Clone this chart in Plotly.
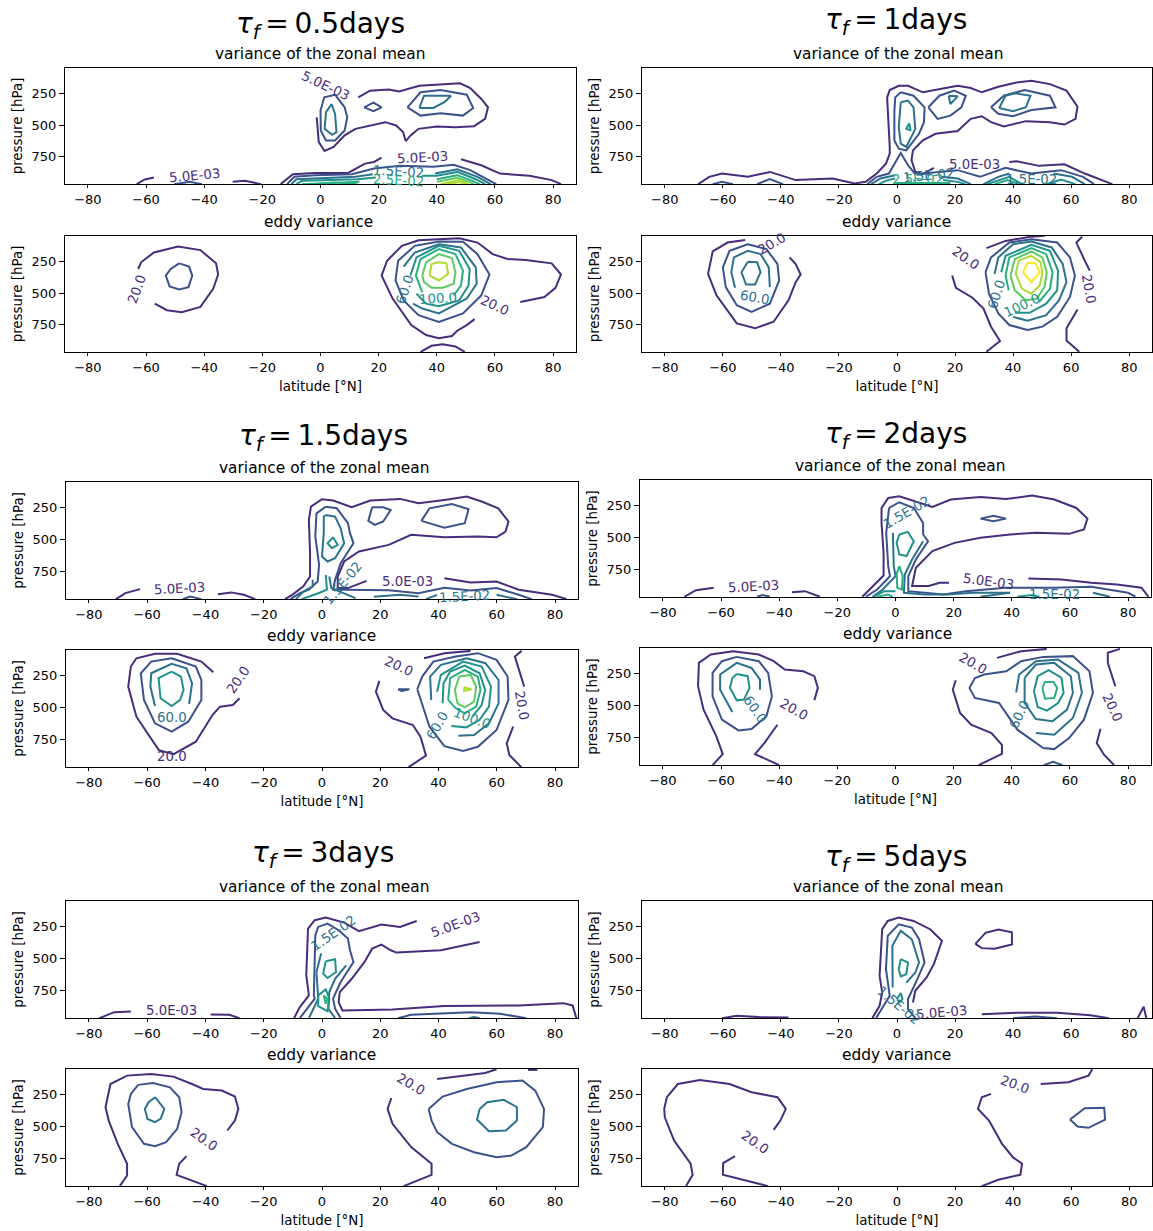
import plotly.graph_objects as go

COLORS = ["#472d7b", "#3b528b", "#2c728e", "#21918c", "#28ae80", "#5ec962", "#addc30", "#fde725"]
X_TICKS = [-80, -60, -40, -20, 0, 20, 40, 60, 80]
Y_TICKS = [250, 500, 750]

# each contour: (colour level, [(lat, pressure), ...], closed?)
A_TOP = [
 (0, [(13,279),(17,226),(23.5,216),(27,232),(34,187),(43,174),(48,168),(51.5,205),(55.3,292),(57.6,358),(56.6,450),(52.8,508),(46.4,516),(40,510),(33.7,529),(31,581),(29.3,626),(28.4,555),(26,502),(22.3,476),(17.2,502),(12,529),(8.3,581),(4.5,673),(1.4,705),(-0.6,634),(-1.3,437)]),
 (1, [(5,258),(8.3,358),(9.2,437),(8.3,542),(5,621),(1.9,621),(0.1,542),(0,384),(1.3,279)], 1),
 (2, [(3.8,332),(5,410),(5.5,555),(4,576),(1.4,529),(1.9,397)], 1),
 (1, [(15,358),(18.2,321),(21,358),(18.2,389)], 1),
 (1, [(29.9,358),(34.4,239),(41.3,221),(50.3,258),(52.5,363),(49,424),(41.3,405),(34.4,424)], 1),
 (2, [(34,363),(35.6,266),(44.9,266),(42.6,318),(38.8,363)], 1),
 (0, [(-63.2,968),(-60.4,931),(-57.3,915)]),
 (1, [(-50.3,968),(-45,950),(-40.7,968)]),
 (0, [(-30.2,950),(-26,942),(-20.4,968)]),
 (0, [(-13.7,968),(-9.5,889),(-2,879),(9.5,879),(15.3,805),(18.4,792),(21,758)]),
 (0, [(48.3,771),(55.3,818),(61.7,884),(71.9,902),(79.5,936),(82.7,968)]),
 (1, [(-11.5,968),(-9,910),(-2,897),(10.8,889),(18.4,844),(27.4,823),(38.8,831),(45.8,815),(51.5,857),(57.9,936),(60.4,968)]),
 (2, [(-10,968),(-8.3,929),(12,910),(18,890)]),
 (2, [(39.4,884),(47,850),(54,910),(58.5,968)]),
 (3, [(-8.3,968),(-6.4,942),(12.7,929),(19,915)]),
 (3, [(35,902),(40,902),(47,871),(53.4,929),(56.6,968)]),
 (4, [(-6.4,968),(13.4,950)]),
 (4, [(40,929),(47,897),(52.2,942),(54.7,968)]),
 (4, [(-3.2,968),(4.5,955),(12.7,968)]),
 (5, [(40,950),(47,918),(51,950),(52.8,968)]),
 (6, [(41.3,968),(47.7,936),(50.9,968)]),
 (6, [(43.3,968),(47.7,952),(50.3,968)]),
]
A_TOP_LABELS = [("5.0E-03",0,1.6,187,25),("5.0E-03",0,-43.2,897,-5),("5.0E-03",0,35,758,-3),("1.5E-02",2,26.7,870,3),("2.5E-02",4,26.7,936,3)]

A_BOT = [
 (0, [(-62.7,308),(-61.7,255),(-57.3,177),(-49,130),(-41.3,158),(-35.9,263),(-35.2,352),(-36.9,465),(-41.3,609),(-47.7,651),(-52.8,635),(-57,583)]),
 (1, [(-48.6,263),(-45.2,289),(-44.1,360),(-45.4,452),(-48.6,470),(-51.9,446),(-53.2,360),(-51.5,308)], 1),
 (0, [(53,706),(50.3,753),(47,798),(45.2,840),(40.7,858),(36.3,832),(31.2,753),(24.8,543),(21,360),(22.9,242),(28,124),(33.7,80),(47.7,64),(54,98),(59.2,190),(64.3,229),(70.6,237),(79.5,263),(82.7,352),(80.8,457),(77,530),(68.7,570)]),
 (0, [(34.4,966),(38.2,918),(42,905),(46.4,923),(49.6,966)]),
 (1, [(40.7,90),(49,92),(54,190),(58.1,352),(55.3,517),(49,661),(40.7,729),(33.7,674),(28.6,557),(25.8,399),(26.7,242),(32.4,124)], 1),
 (2, [(28.6,289),(32.4,177),(40.7,111),(48.3,137),(53.4,295),(53.7,425),(50.3,543),(40.7,661),(35,622),(31.8,583)]),
 (3, [(30.9,360),(33,216),(40.7,124),(47.7,164),(51.3,308),(50.9,439),(47.7,557),(40.7,604),(36.3,583),(33,504)]),
 (4, [(35,491),(32.8,360),(34.4,229),(40.7,150),(46.4,190),(49,321),(48.3,439),(45.8,517)]),
 (5, [(35,360),(36.3,255),(40.7,190),(45.2,221),(46.4,334),(45.8,426),(42,457),(38.2,457),(35.6,412)], 1),
 (6, [(37.5,360),(38.2,268),(40.7,255),(43.3,263),(43.9,347),(40.7,399)], 1),
]
A_BOT_LABELS = [("20.0",0,-63,465,-70),("20.0",0,60,596,25),("60.0",2,29,470,-72),("100.0",3,40.5,543,-3)]

B_TOP = [
 (0, [(12.7,839),(8.9,889),(6.3,870),(5,778),(5.5,700),(8.9,621),(13.3,568),(20.9,547),(25.4,450),(29.2,429),(32.4,476),(36.8,510),(44.4,468),(52.7,476),(57.7,495),(61.5,450),(62.2,353),(58.4,226),(52.7,174),(46.3,147),(41.2,161),(34.9,195),(29.2,239),(25.4,205),(20.9,187),(14.6,213),(8.9,239),(3.8,187),(0.6,187),(-2.5,221),(-3.4,279),(-2.5,673),(-2.5,726),(-3.8,805),(-7,884),(-10.8,950),(-14.6,963),(-22.2,923),(-34.9,936),(-43.8,871),(-51.4,910),(-60.3,884),(-64.7,910),(-68.5,968)]),
 (0, [(38.7,792),(41.2,786),(48.9,823),(57.7,810),(64.7,884),(74.2,968)]),
 (1, [(-10.2,968),(-7,910),(-2.8,884),(1.3,720),(3.8,818),(6.3,889),(20.9,857),(28.6,910),(37.4,839),(46.3,884),(56.5,857),(64.1,910),(67.9,968)]),
 (1, [(1.3,239),(5.7,266),(9.5,358),(9.3,476),(7.6,568),(3.2,700),(0.6,686),(-0.9,621),(-0.9,384),(-0.6,279)], 1),
 (2, [(1.3,318),(3.8,305),(5.7,358),(6.3,529),(3.2,673),(1.3,647),(0.6,516)], 1),
 (3, [(4.2,484),(4.7,542),(3.2,529)], 1),
 (1, [(10.8,358),(14.6,266),(19.7,226),(23.7,266),(22.2,358),(18.4,424),(14,450)], 1),
 (2, [(17.8,266),(20.9,271),(18.4,332)], 1),
 (1, [(32.4,358),(36.8,266),(44,221),(52.7,266),(54.6,358),(46.3,379),(40,429),(34.9,410)], 1),
 (2, [(35.2,363),(37.4,266),(40.6,247),(46,266),(44.4,358),(40,389)], 1),
 (1, [(-63.5,968),(-60.3,950),(-56.5,968)]),
 (1, [(-48.2,968),(-43.8,928),(-39.3,968)]),
 (2, [(-8.9,968),(-5.7,923),(-0.6,897)]),
 (2, [(15.2,910),(20.9,923),(25.4,968)]),
 (3, [(-6.3,968),(-3.2,936),(-0.6,923)]),
 (3, [(15.9,936),(20.9,950),(23.5,968)]),
 (4, [(-0.6,960),(18.4,960)]),
 (2, [(29.8,968),(34.9,910),(38.7,884)]),
 (2, [(53.9,884),(60.3,910),(64.7,968)]),
 (3, [(31.1,968),(38.7,910),(43,968)]),
 (3, [(51.4,968),(56.5,931),(61.5,968)]),
 (4, [(33.6,968),(38.1,936),(41.9,968)]),
]
B_TOP_LABELS = [("5.0E-03",0,26.6,813,0),("1.5E-02",2,46.3,931,0),("2.5E-02",4,7,931,0),("1.5E-02",2,10.8,897,-5)]

B_BOT = [
 (0, [(-52.3,77),(-58.4,98),(-63.5,169),(-65.1,347),(-62.2,517),(-55.2,740),(-48.9,779),(-42.5,727),(-37.4,557),(-34.9,412),(-33.2,352),(-34.9,268),(-37,216)]),
 (1, [(-51.4,111),(-45,150),(-41.2,268),(-40.6,399),(-43.8,583),(-50.1,648),(-55.2,596),(-59,452),(-60,295),(-57.7,164)], 1),
 (2, [(-55.8,457),(-57.1,334),(-56.2,216),(-51.4,164),(-47,190),(-44.2,295),(-43.8,452)]),
 (2, [(-51.4,250),(-48.2,255),(-47,334),(-48.9,431),(-52,431),(-53.6,334)], 1),
 (0, [(30.8,142),(37.4,85),(46.3,51),(51,45)]),
 (0, [(19,360),(20.3,457),(26,536),(29.8,622),(32.4,766),(35.5,879),(30.8,965)]),
 (0, [(63.8,52),(61.8,98),(64.7,242),(66.4,321)]),
 (0, [(62.2,630),(58.4,779),(58.4,876),(62.8,965)]),
 (1, [(30.5,334),(32.4,216),(38.7,98),(46.3,72),(55.2,98),(59.6,216),(61.3,360),(59.6,530),(55.2,688),(50.1,766),(45,792),(38.7,753),(34.9,661),(31.7,504)], 1),
 (2, [(33.6,347),(34.9,216),(40,111),(46.3,90),(53.3,137),(57.1,268),(58.4,412),(55.8,557),(51.4,674),(45,719),(40,688)]),
 (3, [(35.9,334),(37.4,203),(46.3,116),(52.7,164),(55.5,321),(55.2,478),(51.4,583),(45.7,656),(40.6,656)]),
 (4, [(38.5,478),(37.4,360),(38.7,216),(46.3,142),(51.4,190),(53.6,334),(52.7,465),(48.9,570)]),
 (5, [(39.1,360),(40.6,229),(46.3,169),(50.1,216),(51.6,334),(50.8,452),(48.2,543),(44.4,557),(40.6,478)], 1),
 (6, [(40.9,347),(41.9,242),(46.3,203),(49.5,255),(50.1,347),(49.1,439),(46.3,504),(43.1,465)], 1),
 (7, [(43.4,334),(45,260),(47.6,260),(49.2,334),(46.3,412)], 1),
]
B_BOT_LABELS = [("20.0",0,-43,106,-30),("60.0",2,-48.9,538,10),("20.0",0,23.9,221,35),("20.0",0,66,465,80),("60.0",2,34.3,512,-72),("100.0",3,43.1,596,-25)]

C_TOP = [
 (0, [(15.3,824),(8.9,881),(5.4,880),(5.4,790),(7.6,672),(12.7,593),(22.9,541),(30.6,462),(42,481),(53.5,475),(59.9,481),(63,436),(64,357),(60.5,253),(54.8,200),(49.7,161),(42,187),(33.1,213),(26.8,179),(16.6,192),(10.2,245),(3.8,192),(0,182),(-3.8,240),(-4.5,344),(-4.1,606),(-4.1,790),(-6.4,868),(-10.2,934),(-12.7,968)]),
 (0, [(42,803),(51,837),(59.9,829),(67.5,894),(79,934),(84,968)]),
 (0, [(-70.7,968),(-67.5,921),(-62.4,889)]),
 (1, [(-47.8,968),(-45.2,947),(-41.4,968)]),
 (0, [(-35.7,929),(-31.2,915),(-26.8,934),(-22.9,968)]),
 (1, [(1.3,240),(5.1,253),(8.9,370),(9.6,449),(10.8,528),(6.4,685),(4.5,816),(3.8,894),(8.3,894),(22.9,899),(33.1,921),(42,879),(51,900),(59.9,881),(67.5,934),(72,968)]),
 (1, [(1.3,240),(-1.9,293),(-2.3,475),(-1,699),(-1.5,829),(-4.5,894),(-7.6,921),(-10.8,968)]),
 (2, [(1.3,306),(4.5,319),(6.4,411),(7.6,528),(4.5,646),(1.9,672),(0,633),(0.6,449),(0.6,318)], 1),
 (2, [(-3.2,816),(-3.2,868),(-6.4,908),(-8.9,968)]),
 (2, [(2.5,790),(3.2,881),(11.5,960)]),
 (3, [(1.3,777),(1.7,894),(-1,920),(-7,968)]),
 (3, [(3.8,481),(5.4,541),(3.4,567),(1.9,528)], 1),
 (1, [(17.2,245),(21,245),(23.6,266),(21,357),(18.1,384),(15.9,352)], 1),
 (1, [(34.1,352),(36.9,253),(44.6,219),(50.3,260),(49,370),(42,405)], 1),
 (2, [(17.8,950),(26.8,934),(33.1,947)]),
 (2, [(35.7,968),(39.5,934)]),
 (2, [(59.9,934),(66.9,968)]),
]
C_TOP_LABELS = [("5.0E-03",0,-49,887,-3),("5.0E-03",0,29.3,829,0),("1.5E-02",2,49,947,-3),("1.5E-02",2,7,842,-50)]

C_BOT = [
 (0, [(-37.3,221),(-41.4,137),(-49.7,76),(-57.3,76),(-63.7,111),(-65.6,176),(-66.5,334),(-63.7,571),(-56,834),(-50.9,866),(-43.3,768),(-37.6,558),(-35,492),(-30.6,479),(-28.3,426)]),
 (1, [(-51.6,111),(-43.3,176),(-41.4,282),(-41.4,439),(-45.9,610),(-51.6,689),(-57.3,623),(-61.1,439),(-62.2,229),(-58.6,137)], 1),
 (2, [(-57.3,487),(-58.9,334),(-58.6,229),(-51.6,155),(-46.5,190),(-44.6,308),(-45.6,471)]),
 (3, [(-51.6,216),(-48.4,255),(-47.5,360),(-48.7,439),(-51.6,487),(-55.4,426),(-56.1,268)], 1),
 (0, [(35,111),(42,71),(51,53)]),
 (0, [(19.7,289),(18.5,374),(21,518),(24.2,584),(31.2,637),(33.8,729),(35.7,878),(29.7,968)]),
 (0, [(68.5,53),(66.2,97),(69.4,334)]),
 (0, [(65.6,650),(63.4,781),(64.3,873),(68.4,968)]),
 (1, [(26.1,355),(30,355),(27.4,368)], 1),
 (1, [(32.7,355),(34.4,255),(38.2,137),(45.9,97),(53.5,71),(59.9,124),(63.7,255),(64,439),(59.9,676),(53.5,808),(48.4,840),(42,803),(36.9,650)], 1),
 (2, [(37.5,439),(37.1,255),(40.8,163),(49.7,111),(56.1,150),(60.6,282),(60.6,466),(57.3,623),(52.2,716),(46.8,721)]),
 (3, [(39.5,374),(40.8,242),(48.4,137),(54.8,176),(58,334),(57.3,492),(54,597),(49.5,655),(44.4,645)]),
 (3, [(41.4,466),(41.7,308),(44,216),(49,168),(54.1,229),(56,360),(54.8,479),(51.6,571)]),
 (4, [(43.3,439),(44,268),(49,203),(53.5,255),(54.4,360),(52.9,492),(49,545),(45.9,505)], 1),
 (5, [(45.6,360),(47.1,255),(51,242),(52.9,334),(52.2,453),(49,497),(46.5,466)], 1),
 (6, [(48.8,339),(51.3,355),(48.8,368)], 1),
]
C_BOT_LABELS = [("20.0",0,-28.7,276,-55),("20.0",0,-51.6,887,0),("60.0",2,-51.6,579,0),("20.0",0,26.5,176,25),("20.0",0,68.8,487,80),("60.0",2,39.5,637,-60),("100.0",3,51.6,584,20)]

D_TOP = [
 (0, [(-11.4,965),(-7,868),(-4.1,798),(-4.1,619),(-4.8,384),(-4.8,266),(-2.5,187),(1.3,174),(6.3,213),(12.7,258),(19,200),(29.2,179),(38,195),(47,169),(54.6,200),(62.2,266),(66,350),(64.8,436),(59.7,470),(48.3,462),(39.4,475),(29.2,501),(20.3,541),(12.7,606),(7,737),(5.7,881),(11.4,881),(15.2,855),(18.4,855)]),
 (0, [(45.7,821),(57.1,829),(67.3,855),(76.2,868),(84.6,894),(87,965)]),
 (0, [(-72.6,965),(-68.6,913),(-62.5,895)]),
 (1, [(-47.6,965),(-45.7,952),(-43.2,965)]),
 (0, [(-35.6,929),(-31.1,921),(-26,965)]),
 (1, [(-2.2,266),(1.3,221),(6.3,266),(9.5,384),(9.5,475),(11.2,528),(7,672),(4.4,803),(4.4,921),(16.5,947),(24.1,921),(38,895),(54.6,895),(67.3,887),(80,934),(82.5,965)]),
 (1, [(-2.2,266),(-3.2,462),(-2.5,724),(-1.9,803),(-6.3,908),(-10.2,965)]),
 (2, [(-0.9,462),(-0.6,724),(0,803),(-4.4,908),(-7.9,965)]),
 (2, [(9.5,528),(5.7,672),(3.2,790),(2.9,934),(10.2,947),(17.8,947),(26.7,934),(39.4,934)]),
 (3, [(1.3,475),(4.2,454),(6.3,528),(3.8,645),(1.3,632),(0.4,541)], 1),
 (4, [(1.3,724),(2.5,803),(2.2,908),(0.6,895),(0.4,786)], 1),
 (4, [(-6.3,965),(-2.5,947),(-1,965)]),
 (3, [(-7.6,965),(-3.8,921),(0,921)]),
 (2, [(29.2,965),(39.4,934)]),
 (2, [(67.9,934),(73.7,965)]),
 (3, [(41.9,965),(47,952),(49.5,965)]),
 (1, [(29.2,350),(33.7,327),(38,350),(33.7,371)], 1),
]
D_TOP_LABELS = [("5.0E-03",0,-48.9,887,-3),("5.0E-03",0,32,842,8),("1.5E-02",2,3.8,300,-30),("1.5E-02",2,54.6,947,0)]

D_BOT = [
 (0, [(-62.9,968),(-59.4,881),(-61.6,742),(-66,531),(-67.9,347),(-67.6,163),(-63.5,97),(-55.9,71),(-47,97),(-41.9,150),(-38.1,216),(-31.7,229),(-27.9,268),(-26.7,360),(-27.9,458)]),
 (0, [(-40.6,650),(-45.1,794),(-48.3,881),(-40,968)]),
 (1, [(-54.6,116),(-47,150),(-43.8,242),(-42.5,426),(-44.4,584),(-49.5,684),(-54,695),(-59.7,610),(-62.9,426),(-62.9,242),(-59.7,150)], 1),
 (2, [(-56.1,550),(-60.3,374),(-60.3,255),(-54.6,163),(-49.5,203),(-46.6,295),(-46.6,374)]),
 (3, [(-54.6,250),(-50.8,268),(-50.2,360),(-52.1,452),(-54.6,458),(-56.9,360),(-56.1,282)], 1),
 (0, [(20.7,300),(19.7,374),(22.2,558),(26,650),(33,716),(36.6,808),(36.6,879),(28.6,968)]),
 (0, [(34.9,124),(43.2,71),(52,53)]),
 (0, [(77.2,53),(73,84),(73,163),(75.6,347)]),
 (0, [(70.5,681),(69.2,794),(71.7,886),(75.2,968)]),
 (1, [(25.4,360),(27.3,282),(30.5,255),(38.1,229),(43.2,150),(50.8,116),(61,110),(66.7,229),(67.9,400),(64.8,610),(59.7,755),(54.6,842),(50.8,834),(41.9,689),(35.6,479),(29.8,452),(27.3,439)], 1),
 (2, [(41.5,395),(42.5,255),(48.3,150),(55.9,137),(62.9,242),(64.1,400),(61,597),(54.6,729),(48.3,716)]),
 (2, [(44.4,282),(48.3,176),(54.6,163),(60.3,268),(61,400),(59,531),(54,623),(48.3,605),(44.4,479)], 1),
 (3, [(47.6,387),(48.9,268),(52.7,221),(57.1,282),(57.8,400),(55.9,479),(52.1,539),(48.9,510)], 1),
 (4, [(50.5,360),(51.4,313),(54.3,313),(55.6,360),(54.6,439),(51.4,445)], 1),
 (1, [(51,968),(54.2,942),(57.4,968)]),
]
D_BOT_LABELS = [("20.0",0,-34.9,531,30),("60.0",2,-48.3,531,55),("20.0",0,26.7,171,30),("20.0",0,74.5,518,65),("60.0",2,42.5,566,-65)]

E_TOP = [
 (0, [(32.5,203),(26.8,250),(20.4,232),(12.7,284),(7.6,216),(1.3,176),(-2.5,197),(-4.8,263),(-5.4,631),(-4.5,789),(-7.6,881),(-9.6,968)]),
 (0, [(54.1,368),(40.8,434),(25.5,452),(23.6,434),(20.4,389),(17.2,421),(14.6,526),(10.2,658),(6.1,763),(5.7,842),(7,908),(24.2,900),(42,873),(67.5,868),(82.8,850),(86,868),(87.3,968)]),
 (0, [(-76.4,968),(-71.3,921),(-65.6,915)]),
 (0, [(-38.2,939),(-31.8,942),(-28.3,968)]),
 (1, [(-7.6,968),(-2.5,815),(-2.8,789),(-2.5,579),(-2.3,316),(-1.3,250),(1.9,224),(5.7,276),(8.9,342),(9.6,434),(10.8,526),(6.4,684),(3.8,815),(4.5,894),(6.4,968)]),
 (2, [(-0.3,460),(-1.9,605),(-1.3,815),(-4.5,968)]),
 (2, [(8.3,552),(4.5,658),(2.5,763),(2.2,894),(4.5,968)]),
 (3, [(1.3,521),(4.5,505),(4.8,605),(1.9,652),(0.4,618)], 1),
 (3, [(-1.3,789),(1.3,742),(2.5,815),(1.9,913),(-1.3,873)], 1),
 (4, [(0.6,789),(1.9,815),(1.3,855)], 1),
 (1, [(26.1,968),(30.6,942),(51,921),(61.1,934),(70.1,968)]),
 (2, [(50.3,968),(52.2,960),(54.1,968)]),
]
E_TOP_LABELS = [("5.0E-03",0,45.9,232,-20),("5.0E-03",0,-51.6,907,0),("1.5E-02",2,3.8,303,-35)]

E_BOT = [
 (0, [(-69.4,968),(-66.9,884),(-66.9,792),(-70.1,635),(-73.2,452),(-74.3,347),(-72.6,164),(-66.9,98),(-58.6,85),(-51,106),(-44.6,164),(-40.8,203),(-34.4,216),(-29.9,263),(-28.7,360),(-29.9,452),(-32.5,530)]),
 (0, [(-46.5,732),(-49,792),(-49.9,879),(-39.5,968)]),
 (1, [(-63.1,171),(-58,156),(-52.2,190),(-49,268),(-48.2,386),(-49.7,517),(-53.5,622),(-57.3,653),(-61.1,635),(-65.2,504),(-66.5,321),(-65.6,242)], 1),
 (2, [(-57.3,268),(-54.1,360),(-55.4,439),(-57.3,465),(-59.9,439),(-60.8,360),(-59.5,308)], 1),
 (0, [(23.8,274),(22.5,360),(24.2,478),(30.6,661),(37.6,792),(37.6,879),(28,968)]),
 (0, [(39.5,124),(56,77),(59.9,48)]),
 (0, [(70.7,53),(73.9,53)]),
 (1, [(36.6,360),(41.4,263),(49.7,203),(59.9,150),(68.8,137),(73.2,216),(76.2,360),(75.8,504),(70.1,661),(65,727),(59.9,740),(52.2,701),(44.6,635),(39.5,543),(37.6,452)], 1),
 (2, [(54.1,360),(56.7,308),(62.4,289),(66.9,347),(66.9,452),(63.1,530),(57.3,536),(53.2,444)], 1),
]
E_BOT_LABELS = [("20.0",0,-40.5,601,35),("20.0",0,30.6,169,30)]

F_TOP = [
 (0, [(-8.5,968),(-6,871),(-5.1,766),(-6,635),(-5.1,268),(-3.2,203),(0.6,177),(5.7,203),(11.4,268),(15.5,360),(12.7,543),(10.2,648),(6.3,753),(5.5,845)]),
 (1, [(-7.2,968),(-4.7,871),(-2.5,792),(-3.8,583),(-3.2,321),(0.6,229),(5.1,255),(7.6,347),(9.5,530),(7,661),(3.8,818),(3.8,897),(6.3,968)]),
 (2, [(-1.5,727),(-1.6,399),(1.3,281),(5.1,347),(7.6,530),(6.3,610),(3.2,688)]),
 (3, [(1.3,504),(3.8,530),(3.2,622),(1.3,640),(0.6,583)], 1),
 (3, [(0,818),(1.3,770),(1.9,818),(0.9,845)], 1),
 (0, [(27,383),(30.5,297),(34.9,271),(39.6,292),(39.6,388),(33.6,422),(29.2,417)], 1),
 (0, [(29.2,938),(41.2,925),(55.2,925),(66.6,946),(73,968)]),
 (0, [(-60.3,968),(-55.2,950),(-47.6,960),(-37.4,963)]),
 (1, [(40,968),(47.6,955),(55.2,968)]),
 (0, [(82.9,968),(85,878),(85.9,968)]),
]
F_TOP_LABELS = [("1.5E-02",2,0.6,871,40),("5.0E-03",0,15.2,923,-5)]

F_BOT = [
 (0, [(-72.7,968),(-70.4,879),(-71.1,792),(-76.8,609),(-80,426),(-80.2,360),(-79.3,268),(-75.5,164),(-67.9,132),(-57.7,164),(-50.1,229),(-41.2,268),(-38.3,360),(-40.2,452),(-42.5,525)]),
 (0, [(-55.8,732),(-59.9,787),(-60,879),(-44.4,968)]),
 (0, [(32.4,242),(29.2,268),(27.9,360),(31.7,452),(36.2,635),(40,742),(43.1,792),(42.5,879),(34.9,918),(29.2,968)]),
 (0, [(49.5,164),(59,150),(66,98),(67.3,48)]),
 (1, [(59.6,444),(64.7,355),(71.4,352),(71.7,444),(66,509),(62.2,499)], 1),
]
F_BOT_LABELS = [("20.0",0,-48.9,627,35),("20.0",0,40.6,171,20)]

PANELS = [
 ("0.5", A_TOP, A_TOP_LABELS, A_BOT, A_BOT_LABELS),
 ("1", B_TOP, B_TOP_LABELS, B_BOT, B_BOT_LABELS),
 ("1.5", C_TOP, C_TOP_LABELS, C_BOT, C_BOT_LABELS),
 ("2", D_TOP, D_TOP_LABELS, D_BOT, D_BOT_LABELS),
 ("3", E_TOP, E_TOP_LABELS, E_BOT, E_BOT_LABELS),
 ("5", F_TOP, F_TOP_LABELS, F_BOT, F_BOT_LABELS),
]

W, H = 1153, 1231
# x0, x1, top-panel y0/y1, bottom-panel y0/y1, title centre x/y, subtitle centres x
BOXES = [
 (65, 576, 68, 184, 236, 352, 320, 24, 320, 318),
 (642, 1152, 68, 184, 236, 352, 896, 20, 898, 896),
 (66, 578, 482, 599, 650, 767, 323, 436, 324, 321),
 (640, 1151, 480, 597, 648, 765, 896, 434, 900, 897),
 (66, 578, 901, 1018, 1069, 1186, 323, 853, 324, 321),
 (642, 1152, 901, 1018, 1069, 1186, 896, 857, 898, 896),
]
FONT = "DejaVu Sans"
TICK_SIZE, SUB_SIZE, TITLE_SIZE, LAB_SIZE, CLABEL_SIZE = 13, 15.4, 28, 13.4, 13.3

fig = go.Figure()
layout = dict(width=W, height=H, margin=dict(l=0, r=0, t=0, b=0), showlegend=False, hovermode=False,
              paper_bgcolor="white", plot_bgcolor="white", font=dict(family=FONT, color="black"))
annos = []
n = 0


def add_axes(idx, x0, x1, y0, y1, show_xtitle):
    sx = "" if idx == 1 else str(idx)
    xax = dict(domain=[x0 / W, x1 / W], range=[-87.86, 87.86], anchor="y" + sx,
               tickmode="array", tickvals=X_TICKS, ticks="outside", ticklen=3, tickwidth=1,
               tickcolor="black", showline=True, mirror=True, linecolor="black", linewidth=1,
               showgrid=False, zeroline=False, tickfont=dict(size=TICK_SIZE, family=FONT))
    if show_xtitle:
        xax["title"] = dict(text="latitude [°N]", font=dict(size=LAB_SIZE), standoff=8)
    layout["xaxis" + sx] = xax
    layout["yaxis" + sx] = dict(domain=[1 - y1 / H, 1 - y0 / H], range=[967, 46], anchor="x" + sx,
                                tickmode="array", tickvals=Y_TICKS, ticks="outside", ticklen=5, tickwidth=1,
                                tickcolor="black", showline=True, mirror=True, linecolor="black", linewidth=1,
                                showgrid=False, zeroline=False, tickfont=dict(size=TICK_SIZE, family=FONT),
                                title=dict(text="pressure [hPa]", font=dict(size=LAB_SIZE), standoff=5))
    return "x" + sx, "y" + sx


def draw(contours, labels, xa, ya):
    for c in contours:
        pts = list(c[1])
        if len(c) > 2:
            pts.append(pts[0])
        fig.add_trace(go.Scatter(x=[p[0] for p in pts], y=[p[1] for p in pts], mode="lines", xaxis=xa, yaxis=ya,
                                 line=dict(color=COLORS[c[0]], width=2), hoverinfo="skip"))
    for text, lvl, lat, p, ang in labels:
        annos.append(dict(text=text, x=lat, y=p, xref=xa, yref=ya, showarrow=False, textangle=ang,
                          font=dict(size=CLABEL_SIZE, color=COLORS[lvl], family=FONT)))


for (tau, top, topl, bot, botl), box in zip(PANELS, BOXES):
    x0, x1, t0, t1, b0, b1, cx, ty, sx1, sx2 = box
    n += 1
    xa, ya = add_axes(n, x0, x1, t0, t1, False)
    draw(top, topl, xa, ya)
    n += 1
    xa, ya = add_axes(n, x0, x1, b0, b1, True)
    draw(bot, botl, xa, ya)
    annos.append(dict(text=f"<i>τ</i><sub><i>f</i></sub>\u2009=\u2009{tau}days", x=cx / W, y=1 - (ty + 1) / H, xref="paper", yref="paper",
                      showarrow=False, xanchor="center", yanchor="middle", font=dict(size=TITLE_SIZE, family=FONT, color="black")))
    annos.append(dict(text="variance of the zonal mean", x=sx1 / W, y=1 - (t0 - 14) / H, xref="paper", yref="paper",
                      showarrow=False, xanchor="center", yanchor="middle", font=dict(size=SUB_SIZE, family=FONT, color="black")))
    annos.append(dict(text="eddy variance", x=sx2 / W, y=1 - (b0 - 14) / H, xref="paper", yref="paper",
                      showarrow=False, xanchor="center", yanchor="middle", font=dict(size=SUB_SIZE, family=FONT, color="black")))

layout["annotations"] = annos
fig.update_layout(**layout)
fig.write_html("out.html", config=dict(displayModeBar=False), post_script="document.body.style.margin='0';")
